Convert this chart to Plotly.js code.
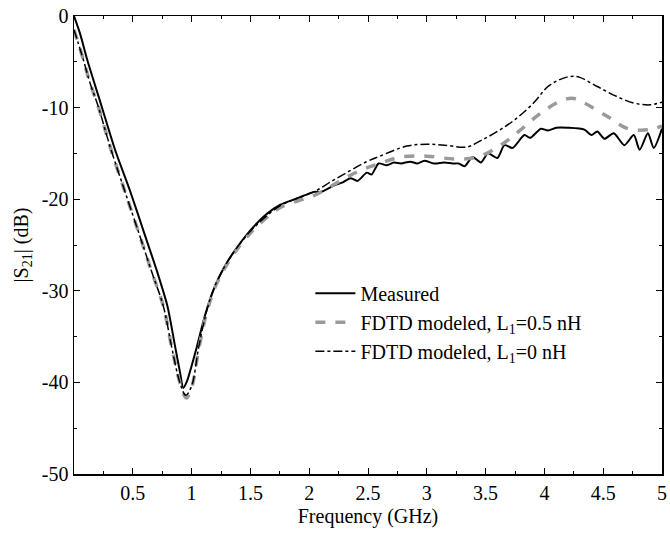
<!DOCTYPE html>
<html>
<head>
<meta charset="utf-8">
<script src="https://cdn.plot.ly/plotly-3.0.1.min.js"></script>
<style>html,body{margin:0;padding:0;background:#fff;}#chart{width:670px;height:536px;}</style>
</head>
<body>
<div id="chart"></div>
<script>
// Measured |S21|
const measFreq = [0.0, 0.051, 0.113, 0.236, 0.349, 0.477, 0.605, 0.704, 0.795, 0.86, 0.90, 0.93, 0.96, 1.0, 1.045, 1.116, 1.19, 1.27, 1.357, 1.5, 1.64, 1.755, 1.9, 2.04, 2.1, 2.21, 2.28, 2.35, 2.41, 2.49, 2.53, 2.59, 2.66, 2.72, 2.78, 2.86, 2.92, 2.98, 3.06, 3.15, 3.22, 3.27, 3.32, 3.39, 3.46, 3.52, 3.6, 3.66, 3.73, 3.83, 3.88, 3.97, 4.03, 4.1, 4.2, 4.34, 4.4, 4.45, 4.51, 4.59, 4.68, 4.76, 4.81, 4.88, 4.93, 5.0];
const measDb   = [0.0, -1.9, -4.8, -9.9, -14.6, -19.1, -24.0, -27.8, -31.7, -36.1, -38.8, -40.6, -39.9, -38.2, -36.1, -32.6, -29.8, -27.6, -25.8, -23.4, -21.6, -20.6, -19.9, -19.2, -19.2, -18.5, -18.2, -17.7, -18.0, -17.1, -17.3, -16.1, -16.3, -16.0, -16.1, -15.9, -16.1, -15.8, -16.1, -16.0, -16.1, -16.1, -16.4, -15.4, -16.0, -15.0, -15.5, -14.1, -14.4, -13.0, -13.3, -12.3, -12.5, -12.2, -12.2, -12.4, -13.0, -12.6, -13.4, -12.8, -14.1, -13.0, -14.6, -12.8, -14.4, -12.3];

// FDTD modeled, L1 = 0.5 nH
const fdtd05Freq = [0.0, 0.037, 0.08, 0.136, 0.207, 0.264, 0.32, 0.434, 0.562, 0.66, 0.76, 0.83, 0.90, 0.955, 1.0, 1.06, 1.13, 1.20, 1.27, 1.357, 1.5, 1.64, 1.755, 1.9, 2.04, 2.21, 2.41, 2.6, 2.78, 3.0, 3.23, 3.43, 3.63, 3.8, 3.97, 4.15, 4.25, 4.34, 4.54, 4.71, 4.9, 5.0];
const fdtd05Db   = [-1.5, -3.0, -4.8, -7.3, -9.9, -12.4, -14.8, -19.2, -24.1, -27.9, -31.7, -36.1, -40.0, -41.7, -40.6, -36.4, -32.3, -29.6, -27.8, -26.0, -23.7, -22.0, -20.9, -20.2, -19.6, -18.4, -17.0, -16.1, -15.4, -15.3, -15.6, -15.4, -14.1, -12.4, -10.6, -9.2, -9.0, -9.5, -11.0, -12.3, -12.4, -12.0];

// FDTD modeled, L1 = 0 nH
const fdtd0Freq = [0.0, 0.037, 0.08, 0.136, 0.207, 0.264, 0.32, 0.434, 0.562, 0.66, 0.76, 0.83, 0.90, 0.95, 1.0, 1.06, 1.13, 1.20, 1.27, 1.357, 1.5, 1.64, 1.755, 1.9, 2.04, 2.21, 2.49, 2.6, 2.83, 3.0, 3.15, 3.34, 3.46, 3.6, 3.74, 3.9, 4.03, 4.12, 4.22, 4.3, 4.45, 4.6, 4.76, 4.9, 5.0];
const fdtd0Db   = [-1.5, -3.0, -4.8, -7.3, -9.9, -12.4, -14.8, -19.2, -24.1, -27.9, -31.7, -36.1, -40.0, -41.4, -40.4, -36.2, -32.1, -29.4, -27.6, -25.8, -23.5, -21.8, -20.7, -19.9, -19.2, -17.9, -15.9, -15.3, -14.2, -14.0, -14.1, -14.3, -13.6, -12.6, -11.4, -9.6, -7.7, -7.0, -6.6, -6.7, -7.7, -8.7, -9.5, -9.7, -9.4];

// Axis ticks
const xTickVals = [0.5, 1, 1.5, 2, 2.5, 3, 3.5, 4, 4.5, 5];
const xTickText = ["0.5", "1", "1.5", "2", "2.5", "3", "3.5", "4", "4.5", "5"];
const yTickVals = [0, -10, -20, -30, -40, -50];
const yTickText = ["0", "-10", "-20", "-30", "-40", "-50"];

const legendNames = ["Measured", "FDTD modeled, L<sub>1</sub>=0.5 nH", "FDTD modeled, L<sub>1</sub>=0 nH"];

const serif = "Liberation Serif, Times New Roman, serif";

const traces = [
  {x: measFreq, y: measDb, name: legendNames[0], mode: "lines",
   line: {color: "#000", width: 2, shape: "spline", smoothing: 0.7}},
  {x: fdtd05Freq, y: fdtd05Db, name: legendNames[1], mode: "lines",
   line: {color: "#9a9a9a", width: 3.5, dash: "10px,10px", shape: "spline", smoothing: 1}},
  {x: fdtd0Freq, y: fdtd0Db, name: legendNames[2], mode: "lines",
   line: {color: "#000", width: 1.5, dash: "dashdot", shape: "spline", smoothing: 1}}
];

const axisCommon = {
  showline: true, linecolor: "#000", linewidth: 1.5, mirror: "allticks",
  ticks: "inside", ticklen: 6, tickwidth: 1, tickcolor: "#000",
  showgrid: false, zeroline: false,
  tickfont: {family: serif, size: 20, color: "#000"}
};

const layout = {
  width: 670, height: 536,
  margin: {l: 74, r: 8, t: 16, b: 62},
  paper_bgcolor: "#fff", plot_bgcolor: "#fff",
  showlegend: true,
  legend: {x: 0.402, y: 0.437, xanchor: "left", yanchor: "top", itemwidth: 40,
           font: {family: serif, size: 20, color: "#000"},
           bgcolor: "rgba(0,0,0,0)", tracegroupgap: 0},
  xaxis: Object.assign({}, axisCommon, {
    range: [0, 5], tickmode: "array", tickvals: xTickVals, ticktext: xTickText,
    minor: {dtick: 0.25, ticks: "inside", ticklen: 3, tickcolor: "#000"},
    title: {text: "Frequency (GHz)", font: {family: serif, size: 20, color: "#000"}, standoff: 6}
  }),
  yaxis: Object.assign({}, axisCommon, {
    range: [-50, 0], tickmode: "array", tickvals: yTickVals, ticktext: yTickText,
    minor: {dtick: 5, ticks: "inside", ticklen: 3, tickcolor: "#000"},
    title: {text: "|S<sub>21</sub>| (dB)", font: {family: serif, size: 20, color: "#000"}, standoff: 8}
  })
};

Plotly.newPlot("chart", traces, layout, {displayModeBar: false, staticPlot: true});
</script>
</body>
</html>
